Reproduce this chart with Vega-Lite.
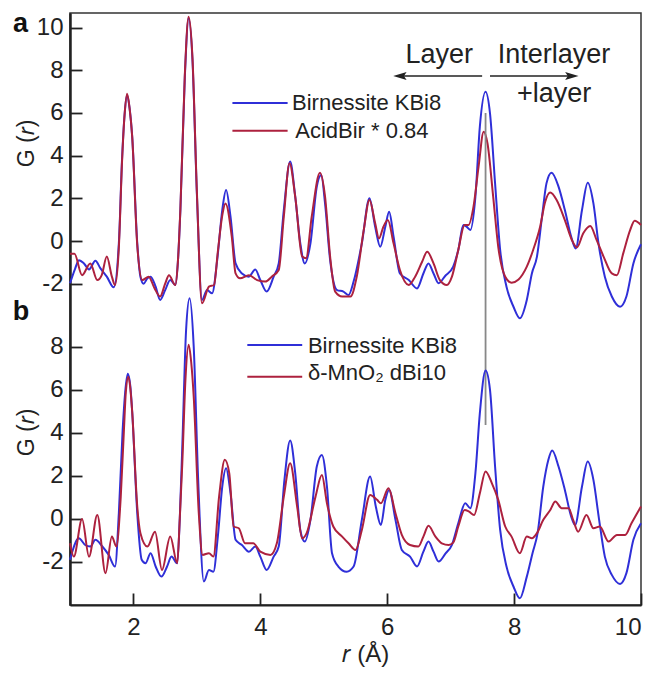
{
  "$schema": "https://vega.github.io/schema/vega-lite/v6.json",
  "width": 571,
  "height": 592,
  "autosize": "none",
  "padding": {"left": 70, "top": 13, "right": 17, "bottom": 68},
  "config": {
    "view": {"stroke": "#333", "strokeWidth": 1.5},
    "font": "Liberation Sans",
    "axis": {
      "grid": false,
      "labelFont": "Liberation Sans",
      "labelFontSize": 24,
      "labelColor": "#222",
      "labelExpr": "replace(datum.label, '\u2212', '-')",
      "tickColor": "#222",
      "tickWidth": 1.8,
      "tickSize": -12,
      "domainColor": "#222",
      "domainWidth": 2,
      "titleFont": "Liberation Sans",
      "titleFontSize": 23,
      "titleFontWeight": "normal",
      "titleColor": "#222"
    }
  },
  "datasets": {
    "pa": [
      {"r":1.00,"g":-1.98,"s":"KBi8"},{"r":1.08,"g":-1.3,"s":"KBi8"},{"r":1.14,"g":-0.9,"s":"KBi8"},{"r":1.22,"g":-1.05,"s":"KBi8"},{"r":1.30,"g":-1.33,"s":"KBi8"},{"r":1.40,"g":-0.92,"s":"KBi8"},{"r":1.48,"g":-1.28,"s":"KBi8"},{"r":1.58,"g":-1.67,"s":"KBi8"},{"r":1.69,"g":-2.17,"s":"KBi8"},{"r":1.77,"g":-0.11,"s":"KBi8"},{"r":1.82,"g":3.8,"s":"KBi8"},{"r":1.86,"g":5.9,"s":"KBi8"},{"r":1.90,"g":6.84,"s":"KBi8"},{"r":1.94,"g":6.2,"s":"KBi8"},{"r":1.98,"g":4.9,"s":"KBi8"},{"r":2.06,"g":-0.1,"s":"KBi8"},{"r":2.11,"g":-1.67,"s":"KBi8"},{"r":2.16,"g":-2.0,"s":"KBi8"},{"r":2.22,"g":-1.75,"s":"KBi8"},{"r":2.27,"g":-1.67,"s":"KBi8"},{"r":2.35,"g":-2.14,"s":"KBi8"},{"r":2.42,"g":-2.76,"s":"KBi8"},{"r":2.50,"g":-2.3,"s":"KBi8"},{"r":2.58,"g":-1.83,"s":"KBi8"},{"r":2.66,"g":-2.06,"s":"KBi8"},{"r":2.70,"g":-1.0,"s":"KBi8"},{"r":2.74,"g":1.45,"s":"KBi8"},{"r":2.81,"g":7.7,"s":"KBi8"},{"r":2.87,"g":10.43,"s":"KBi8"},{"r":2.93,"g":8.5,"s":"KBi8"},{"r":3.00,"g":2.2,"s":"KBi8"},{"r":3.08,"g":-2.76,"s":"KBi8"},{"r":3.16,"g":-2.3,"s":"KBi8"},{"r":3.24,"g":-2.45,"s":"KBi8"},{"r":3.32,"g":-0.89,"s":"KBi8"},{"r":3.40,"g":1.45,"s":"KBi8"},{"r":3.46,"g":2.39,"s":"KBi8"},{"r":3.53,"g":1.14,"s":"KBi8"},{"r":3.61,"g":-1.05,"s":"KBi8"},{"r":3.71,"g":-1.52,"s":"KBi8"},{"r":3.82,"g":-1.67,"s":"KBi8"},{"r":3.92,"g":-1.33,"s":"KBi8"},{"r":4.00,"g":-1.83,"s":"KBi8"},{"r":4.10,"g":-2.37,"s":"KBi8"},{"r":4.21,"g":-1.67,"s":"KBi8"},{"r":4.29,"g":-1.05,"s":"KBi8"},{"r":4.37,"g":1.45,"s":"KBi8"},{"r":4.47,"g":3.72,"s":"KBi8"},{"r":4.55,"g":2.08,"s":"KBi8"},{"r":4.63,"g":-0.11,"s":"KBi8"},{"r":4.70,"g":-1.05,"s":"KBi8"},{"r":4.79,"g":-0.11,"s":"KBi8"},{"r":4.89,"g":2.55,"s":"KBi8"},{"r":4.96,"g":3.09,"s":"KBi8"},{"r":5.02,"g":1.76,"s":"KBi8"},{"r":5.10,"g":-0.89,"s":"KBi8"},{"r":5.21,"g":-2.3,"s":"KBi8"},{"r":5.31,"g":-2.37,"s":"KBi8"},{"r":5.39,"g":-2.53,"s":"KBi8"},{"r":5.47,"g":-1.9,"s":"KBi8"},{"r":5.60,"g":-0.11,"s":"KBi8"},{"r":5.72,"g":2.0,"s":"KBi8"},{"r":5.81,"g":0.67,"s":"KBi8"},{"r":5.89,"g":-0.27,"s":"KBi8"},{"r":5.97,"g":0.67,"s":"KBi8"},{"r":6.03,"g":1.37,"s":"KBi8"},{"r":6.10,"g":0.2,"s":"KBi8"},{"r":6.20,"g":-1.52,"s":"KBi8"},{"r":6.34,"g":-1.83,"s":"KBi8"},{"r":6.47,"g":-2.22,"s":"KBi8"},{"r":6.57,"g":-1.52,"s":"KBi8"},{"r":6.65,"g":-1.05,"s":"KBi8"},{"r":6.73,"g":-1.52,"s":"KBi8"},{"r":6.81,"g":-1.98,"s":"KBi8"},{"r":6.91,"g":-1.65,"s":"KBi8"},{"r":7.04,"g":-1.2,"s":"KBi8"},{"r":7.12,"g":-0.42,"s":"KBi8"},{"r":7.20,"g":0.75,"s":"KBi8"},{"r":7.25,"g":0.67,"s":"KBi8"},{"r":7.31,"g":0.52,"s":"KBi8"},{"r":7.39,"g":2.08,"s":"KBi8"},{"r":7.46,"g":5.36,"s":"KBi8"},{"r":7.55,"g":6.99,"s":"KBi8"},{"r":7.62,"g":5.98,"s":"KBi8"},{"r":7.70,"g":2.7,"s":"KBi8"},{"r":7.78,"g":-0.42,"s":"KBi8"},{"r":7.88,"g":-2.14,"s":"KBi8"},{"r":7.99,"g":-3.08,"s":"KBi8"},{"r":8.09,"g":-3.62,"s":"KBi8"},{"r":8.20,"g":-2.76,"s":"KBi8"},{"r":8.28,"g":-1.52,"s":"KBi8"},{"r":8.36,"g":-0.73,"s":"KBi8"},{"r":8.44,"g":1.14,"s":"KBi8"},{"r":8.51,"g":2.7,"s":"KBi8"},{"r":8.59,"g":3.2,"s":"KBi8"},{"r":8.70,"g":2.55,"s":"KBi8"},{"r":8.80,"g":1.45,"s":"KBi8"},{"r":8.90,"g":0.2,"s":"KBi8"},{"r":8.97,"g":-0.35,"s":"KBi8"},{"r":9.07,"g":1.45,"s":"KBi8"},{"r":9.16,"g":2.73,"s":"KBi8"},{"r":9.25,"g":1.76,"s":"KBi8"},{"r":9.33,"g":-0.11,"s":"KBi8"},{"r":9.43,"g":-1.67,"s":"KBi8"},{"r":9.54,"g":-2.6,"s":"KBi8"},{"r":9.67,"g":-3.08,"s":"KBi8"},{"r":9.77,"g":-2.6,"s":"KBi8"},{"r":9.88,"g":-1.05,"s":"KBi8"},{"r":10.0,"g":-0.15,"s":"KBi8"},
      {"r":1.00,"g":-0.6,"s":"AcidBir"},{"r":1.07,"g":-0.6,"s":"AcidBir"},{"r":1.19,"g":-1.6,"s":"AcidBir"},{"r":1.32,"g":-1.05,"s":"AcidBir"},{"r":1.43,"g":-1.83,"s":"AcidBir"},{"r":1.50,"g":-1.6,"s":"AcidBir"},{"r":1.58,"g":-0.73,"s":"AcidBir"},{"r":1.66,"g":-1.67,"s":"AcidBir"},{"r":1.71,"g":-2.06,"s":"AcidBir"},{"r":1.77,"g":-0.3,"s":"AcidBir"},{"r":1.82,"g":3.7,"s":"AcidBir"},{"r":1.86,"g":5.9,"s":"AcidBir"},{"r":1.90,"g":6.9,"s":"AcidBir"},{"r":1.94,"g":6.2,"s":"AcidBir"},{"r":1.98,"g":4.9,"s":"AcidBir"},{"r":2.06,"g":-0.2,"s":"AcidBir"},{"r":2.14,"g":-1.83,"s":"AcidBir"},{"r":2.24,"g":-1.67,"s":"AcidBir"},{"r":2.33,"g":-2.2,"s":"AcidBir"},{"r":2.42,"g":-2.6,"s":"AcidBir"},{"r":2.50,"g":-2.0,"s":"AcidBir"},{"r":2.56,"g":-1.6,"s":"AcidBir"},{"r":2.66,"g":-2.06,"s":"AcidBir"},{"r":2.70,"g":-1.0,"s":"AcidBir"},{"r":2.74,"g":1.5,"s":"AcidBir"},{"r":2.81,"g":7.8,"s":"AcidBir"},{"r":2.87,"g":10.5,"s":"AcidBir"},{"r":2.93,"g":8.6,"s":"AcidBir"},{"r":3.00,"g":2.3,"s":"AcidBir"},{"r":3.08,"g":-2.92,"s":"AcidBir"},{"r":3.19,"g":-2.14,"s":"AcidBir"},{"r":3.27,"g":-2.06,"s":"AcidBir"},{"r":3.33,"g":-0.5,"s":"AcidBir"},{"r":3.40,"g":1.2,"s":"AcidBir"},{"r":3.45,"g":1.76,"s":"AcidBir"},{"r":3.55,"g":0.2,"s":"AcidBir"},{"r":3.61,"g":-1.52,"s":"AcidBir"},{"r":3.68,"g":-1.75,"s":"AcidBir"},{"r":3.82,"g":-1.6,"s":"AcidBir"},{"r":3.95,"g":-1.83,"s":"AcidBir"},{"r":4.08,"g":-1.9,"s":"AcidBir"},{"r":4.18,"g":-1.67,"s":"AcidBir"},{"r":4.29,"g":-1.36,"s":"AcidBir"},{"r":4.37,"g":1.14,"s":"AcidBir"},{"r":4.46,"g":3.64,"s":"AcidBir"},{"r":4.55,"g":2.08,"s":"AcidBir"},{"r":4.66,"g":-0.73,"s":"AcidBir"},{"r":4.72,"g":-0.81,"s":"AcidBir"},{"r":4.81,"g":1.14,"s":"AcidBir"},{"r":4.94,"g":3.2,"s":"AcidBir"},{"r":5.02,"g":2.08,"s":"AcidBir"},{"r":5.10,"g":-0.73,"s":"AcidBir"},{"r":5.18,"g":-2.37,"s":"AcidBir"},{"r":5.29,"g":-2.6,"s":"AcidBir"},{"r":5.42,"g":-2.6,"s":"AcidBir"},{"r":5.52,"g":-1.67,"s":"AcidBir"},{"r":5.63,"g":0.52,"s":"AcidBir"},{"r":5.72,"g":1.92,"s":"AcidBir"},{"r":5.81,"g":0.83,"s":"AcidBir"},{"r":5.87,"g":0.12,"s":"AcidBir"},{"r":5.94,"g":0.67,"s":"AcidBir"},{"r":6.01,"g":0.98,"s":"AcidBir"},{"r":6.10,"g":-0.11,"s":"AcidBir"},{"r":6.20,"g":-1.36,"s":"AcidBir"},{"r":6.34,"g":-2.06,"s":"AcidBir"},{"r":6.44,"g":-1.67,"s":"AcidBir"},{"r":6.55,"g":-0.97,"s":"AcidBir"},{"r":6.63,"g":-0.5,"s":"AcidBir"},{"r":6.73,"g":-1.05,"s":"AcidBir"},{"r":6.83,"g":-1.83,"s":"AcidBir"},{"r":6.94,"g":-2.06,"s":"AcidBir"},{"r":7.02,"g":-1.67,"s":"AcidBir"},{"r":7.12,"g":-0.42,"s":"AcidBir"},{"r":7.22,"g":0.75,"s":"AcidBir"},{"r":7.28,"g":0.75,"s":"AcidBir"},{"r":7.36,"g":1.61,"s":"AcidBir"},{"r":7.44,"g":3.48,"s":"AcidBir"},{"r":7.52,"g":5.12,"s":"AcidBir"},{"r":7.58,"g":4.58,"s":"AcidBir"},{"r":7.67,"g":2.08,"s":"AcidBir"},{"r":7.75,"g":-0.27,"s":"AcidBir"},{"r":7.86,"g":-1.67,"s":"AcidBir"},{"r":7.96,"g":-1.95,"s":"AcidBir"},{"r":8.07,"g":-1.8,"s":"AcidBir"},{"r":8.20,"g":-1.2,"s":"AcidBir"},{"r":8.30,"g":-0.42,"s":"AcidBir"},{"r":8.41,"g":0.67,"s":"AcidBir"},{"r":8.49,"g":1.84,"s":"AcidBir"},{"r":8.57,"g":2.27,"s":"AcidBir"},{"r":8.67,"g":1.92,"s":"AcidBir"},{"r":8.80,"g":0.98,"s":"AcidBir"},{"r":8.91,"g":0.05,"s":"AcidBir"},{"r":8.99,"g":-0.3,"s":"AcidBir"},{"r":9.09,"g":0.36,"s":"AcidBir"},{"r":9.20,"g":0.7,"s":"AcidBir"},{"r":9.30,"g":0.05,"s":"AcidBir"},{"r":9.41,"g":-0.73,"s":"AcidBir"},{"r":9.54,"g":-1.52,"s":"AcidBir"},{"r":9.62,"g":-1.6,"s":"AcidBir"},{"r":9.72,"g":-0.58,"s":"AcidBir"},{"r":9.83,"g":0.52,"s":"AcidBir"},{"r":9.90,"g":0.95,"s":"AcidBir"},{"r":10.0,"g":0.75,"s":"AcidBir"}
    ],
    "pb": [
      {"r":1.00,"g":-1.9,"s":"KBi8"},{"r":1.14,"g":-0.9,"s":"KBi8"},{"r":1.24,"g":-1.21,"s":"KBi8"},{"r":1.32,"g":-1.28,"s":"KBi8"},{"r":1.40,"g":-0.97,"s":"KBi8"},{"r":1.51,"g":-1.28,"s":"KBi8"},{"r":1.61,"g":-1.67,"s":"KBi8"},{"r":1.71,"g":-2.21,"s":"KBi8"},{"r":1.77,"g":0.27,"s":"KBi8"},{"r":1.83,"g":4.14,"s":"KBi8"},{"r":1.87,"g":5.9,"s":"KBi8"},{"r":1.91,"g":6.75,"s":"KBi8"},{"r":1.95,"g":6.2,"s":"KBi8"},{"r":1.98,"g":5.0,"s":"KBi8"},{"r":2.06,"g":0.27,"s":"KBi8"},{"r":2.13,"g":-1.9,"s":"KBi8"},{"r":2.19,"g":-2.06,"s":"KBi8"},{"r":2.27,"g":-1.59,"s":"KBi8"},{"r":2.35,"g":-2.21,"s":"KBi8"},{"r":2.44,"g":-2.68,"s":"KBi8"},{"r":2.53,"g":-2.21,"s":"KBi8"},{"r":2.60,"g":-1.75,"s":"KBi8"},{"r":2.69,"g":-2.06,"s":"KBi8"},{"r":2.73,"g":0.0,"s":"KBi8"},{"r":2.77,"g":3.37,"s":"KBi8"},{"r":2.83,"g":8.8,"s":"KBi8"},{"r":2.885,"g":10.27,"s":"KBi8"},{"r":2.95,"g":8.02,"s":"KBi8"},{"r":3.02,"g":1.82,"s":"KBi8"},{"r":3.11,"g":-2.91,"s":"KBi8"},{"r":3.19,"g":-2.37,"s":"KBi8"},{"r":3.26,"g":-2.45,"s":"KBi8"},{"r":3.33,"g":-0.82,"s":"KBi8"},{"r":3.40,"g":1.51,"s":"KBi8"},{"r":3.46,"g":2.36,"s":"KBi8"},{"r":3.53,"g":1.2,"s":"KBi8"},{"r":3.61,"g":-0.97,"s":"KBi8"},{"r":3.71,"g":-1.21,"s":"KBi8"},{"r":3.82,"g":-1.52,"s":"KBi8"},{"r":3.92,"g":-1.28,"s":"KBi8"},{"r":4.00,"g":-1.75,"s":"KBi8"},{"r":4.10,"g":-2.37,"s":"KBi8"},{"r":4.21,"g":-1.75,"s":"KBi8"},{"r":4.29,"g":-1.28,"s":"KBi8"},{"r":4.38,"g":1.82,"s":"KBi8"},{"r":4.47,"g":3.65,"s":"KBi8"},{"r":4.55,"g":2.13,"s":"KBi8"},{"r":4.63,"g":-0.51,"s":"KBi8"},{"r":4.70,"g":-1.05,"s":"KBi8"},{"r":4.79,"g":-0.04,"s":"KBi8"},{"r":4.89,"g":2.44,"s":"KBi8"},{"r":4.97,"g":2.98,"s":"KBi8"},{"r":5.05,"g":1.51,"s":"KBi8"},{"r":5.13,"g":-1.59,"s":"KBi8"},{"r":5.23,"g":-2.21,"s":"KBi8"},{"r":5.36,"g":-2.45,"s":"KBi8"},{"r":5.47,"g":-2.21,"s":"KBi8"},{"r":5.60,"g":-0.04,"s":"KBi8"},{"r":5.73,"g":1.97,"s":"KBi8"},{"r":5.82,"g":0.58,"s":"KBi8"},{"r":5.90,"g":-0.28,"s":"KBi8"},{"r":5.97,"g":0.89,"s":"KBi8"},{"r":6.03,"g":1.35,"s":"KBi8"},{"r":6.13,"g":-0.04,"s":"KBi8"},{"r":6.23,"g":-1.44,"s":"KBi8"},{"r":6.36,"g":-1.75,"s":"KBi8"},{"r":6.47,"g":-2.21,"s":"KBi8"},{"r":6.57,"g":-1.52,"s":"KBi8"},{"r":6.65,"g":-1.05,"s":"KBi8"},{"r":6.73,"g":-1.52,"s":"KBi8"},{"r":6.81,"g":-1.98,"s":"KBi8"},{"r":6.92,"g":-1.6,"s":"KBi8"},{"r":7.02,"g":-1.2,"s":"KBi8"},{"r":7.12,"g":-0.2,"s":"KBi8"},{"r":7.23,"g":0.73,"s":"KBi8"},{"r":7.31,"g":0.5,"s":"KBi8"},{"r":7.39,"g":2.13,"s":"KBi8"},{"r":7.46,"g":4.92,"s":"KBi8"},{"r":7.55,"g":6.9,"s":"KBi8"},{"r":7.62,"g":6.0,"s":"KBi8"},{"r":7.70,"g":2.44,"s":"KBi8"},{"r":7.78,"g":-0.51,"s":"KBi8"},{"r":7.88,"g":-2.21,"s":"KBi8"},{"r":7.99,"g":-3.14,"s":"KBi8"},{"r":8.09,"g":-3.69,"s":"KBi8"},{"r":8.20,"g":-2.68,"s":"KBi8"},{"r":8.29,"g":-1.59,"s":"KBi8"},{"r":8.37,"g":-0.66,"s":"KBi8"},{"r":8.46,"g":1.51,"s":"KBi8"},{"r":8.54,"g":2.75,"s":"KBi8"},{"r":8.60,"g":3.18,"s":"KBi8"},{"r":8.70,"g":2.44,"s":"KBi8"},{"r":8.80,"g":1.35,"s":"KBi8"},{"r":8.90,"g":0.11,"s":"KBi8"},{"r":8.96,"g":-0.28,"s":"KBi8"},{"r":9.07,"g":1.51,"s":"KBi8"},{"r":9.16,"g":2.67,"s":"KBi8"},{"r":9.25,"g":1.82,"s":"KBi8"},{"r":9.34,"g":-0.04,"s":"KBi8"},{"r":9.43,"g":-1.75,"s":"KBi8"},{"r":9.54,"g":-2.6,"s":"KBi8"},{"r":9.67,"g":-3.02,"s":"KBi8"},{"r":9.77,"g":-2.52,"s":"KBi8"},{"r":9.88,"g":-0.97,"s":"KBi8"},{"r":10.0,"g":-0.2,"s":"KBi8"},
      {"r":1.00,"g":-1.13,"s":"dBi10"},{"r":1.06,"g":-1.75,"s":"dBi10"},{"r":1.19,"g":0.0,"s":"dBi10"},{"r":1.30,"g":-1.75,"s":"dBi10"},{"r":1.43,"g":0.19,"s":"dBi10"},{"r":1.56,"g":-2.52,"s":"dBi10"},{"r":1.66,"g":-0.82,"s":"dBi10"},{"r":1.73,"g":-1.28,"s":"dBi10"},{"r":1.80,"g":1.04,"s":"dBi10"},{"r":1.85,"g":4.14,"s":"dBi10"},{"r":1.88,"g":5.9,"s":"dBi10"},{"r":1.92,"g":6.62,"s":"dBi10"},{"r":1.95,"g":6.1,"s":"dBi10"},{"r":1.98,"g":5.0,"s":"dBi10"},{"r":2.06,"g":0.58,"s":"dBi10"},{"r":2.11,"g":-0.66,"s":"dBi10"},{"r":2.22,"g":-1.28,"s":"dBi10"},{"r":2.34,"g":-0.59,"s":"dBi10"},{"r":2.45,"g":-2.37,"s":"dBi10"},{"r":2.58,"g":-0.82,"s":"dBi10"},{"r":2.69,"g":-2.06,"s":"dBi10"},{"r":2.73,"g":0.0,"s":"dBi10"},{"r":2.77,"g":2.59,"s":"dBi10"},{"r":2.82,"g":6.5,"s":"dBi10"},{"r":2.87,"g":8.1,"s":"dBi10"},{"r":2.91,"g":7.3,"s":"dBi10"},{"r":2.95,"g":5.69,"s":"dBi10"},{"r":3.03,"g":0.27,"s":"dBi10"},{"r":3.09,"g":-1.67,"s":"dBi10"},{"r":3.19,"g":-1.59,"s":"dBi10"},{"r":3.26,"g":-1.75,"s":"dBi10"},{"r":3.35,"g":1.04,"s":"dBi10"},{"r":3.44,"g":2.75,"s":"dBi10"},{"r":3.51,"g":2.13,"s":"dBi10"},{"r":3.58,"g":-0.35,"s":"dBi10"},{"r":3.66,"g":-0.43,"s":"dBi10"},{"r":3.76,"g":-1.13,"s":"dBi10"},{"r":3.89,"g":-1.13,"s":"dBi10"},{"r":4.00,"g":-1.52,"s":"dBi10"},{"r":4.16,"g":-1.67,"s":"dBi10"},{"r":4.26,"g":-1.13,"s":"dBi10"},{"r":4.37,"g":1.04,"s":"dBi10"},{"r":4.47,"g":2.59,"s":"dBi10"},{"r":4.58,"g":0.58,"s":"dBi10"},{"r":4.66,"g":-0.9,"s":"dBi10"},{"r":4.73,"g":-0.66,"s":"dBi10"},{"r":4.87,"g":1.04,"s":"dBi10"},{"r":4.97,"g":2.05,"s":"dBi10"},{"r":5.05,"g":0.73,"s":"dBi10"},{"r":5.15,"g":-0.35,"s":"dBi10"},{"r":5.29,"g":-0.82,"s":"dBi10"},{"r":5.39,"g":-1.13,"s":"dBi10"},{"r":5.50,"g":-1.44,"s":"dBi10"},{"r":5.60,"g":-0.51,"s":"dBi10"},{"r":5.73,"g":1.12,"s":"dBi10"},{"r":5.84,"g":0.89,"s":"dBi10"},{"r":5.90,"g":0.73,"s":"dBi10"},{"r":6.02,"g":1.43,"s":"dBi10"},{"r":6.13,"g":0.27,"s":"dBi10"},{"r":6.23,"g":-0.74,"s":"dBi10"},{"r":6.36,"g":-1.21,"s":"dBi10"},{"r":6.49,"g":-1.28,"s":"dBi10"},{"r":6.57,"g":-0.82,"s":"dBi10"},{"r":6.65,"g":-0.32,"s":"dBi10"},{"r":6.76,"g":-0.82,"s":"dBi10"},{"r":6.86,"g":-1.13,"s":"dBi10"},{"r":6.97,"g":-1.21,"s":"dBi10"},{"r":7.04,"g":-1.1,"s":"dBi10"},{"r":7.12,"g":-0.35,"s":"dBi10"},{"r":7.22,"g":0.42,"s":"dBi10"},{"r":7.29,"g":0.34,"s":"dBi10"},{"r":7.37,"g":0.19,"s":"dBi10"},{"r":7.46,"g":1.2,"s":"dBi10"},{"r":7.55,"g":2.21,"s":"dBi10"},{"r":7.65,"g":1.66,"s":"dBi10"},{"r":7.75,"g":0.89,"s":"dBi10"},{"r":7.86,"g":-0.35,"s":"dBi10"},{"r":7.96,"g":-0.82,"s":"dBi10"},{"r":8.09,"g":-1.59,"s":"dBi10"},{"r":8.20,"g":-0.82,"s":"dBi10"},{"r":8.28,"g":-0.9,"s":"dBi10"},{"r":8.36,"g":-0.66,"s":"dBi10"},{"r":8.46,"g":-0.04,"s":"dBi10"},{"r":8.57,"g":0.42,"s":"dBi10"},{"r":8.65,"g":0.81,"s":"dBi10"},{"r":8.75,"g":0.5,"s":"dBi10"},{"r":8.86,"g":0.5,"s":"dBi10"},{"r":8.93,"g":-0.04,"s":"dBi10"},{"r":9.01,"g":-0.59,"s":"dBi10"},{"r":9.14,"g":0.19,"s":"dBi10"},{"r":9.25,"g":-0.43,"s":"dBi10"},{"r":9.35,"g":-0.35,"s":"dBi10"},{"r":9.49,"g":-1.05,"s":"dBi10"},{"r":9.62,"g":-0.74,"s":"dBi10"},{"r":9.75,"g":-0.74,"s":"dBi10"},{"r":9.85,"g":-0.2,"s":"dBi10"},{"r":10.0,"g":0.58,"s":"dBi10"}
    ]
  },
  "encoding": {
    "x": {
      "field": "r", "type": "quantitative",
      "scale": {"domain": [1, 10], "nice": false, "zero": false},
      "axis": {"values": [2, 4, 6, 8, 10], "labelPadding": 22, "title": "𝑟 (Å)", "titleX": 295, "titleY": 56, "titleBaseline": "alphabetic", "titleFontSize": 24}
    }
  },
  "layer": [
    {
      "encoding": {
        "y": {
          "field": "g", "type": "quantitative",
          "scale": {"domain": [-17.05, 10.68], "nice": false, "zero": false},
          "axis": {"orient": "left", "values": [-2, 0, 2, 4, 6, 8, 10], "labelPadding": 19, "title": "G (𝑟)", "titleX": -44, "titleY": 130, "titleAngle": -90, "titleBaseline": "middle", "titleAlign": "center"}
        }
      },
      "layer": [
        {
          "data": {"name": "pa"},
          "mark": {"type": "line", "interpolate": "monotone", "strokeWidth": 2},
          "encoding": {"color": {"field": "s", "type": "nominal", "scale": {"domain": ["KBi8", "AcidBir", "dBi10"], "range": ["#2f2fd8", "#ad213e", "#ad213e"]}, "legend": null}}
        },
        {
          "data": {"values": [{"r": 7.55, "g": 6.0, "g2": -8.62}]},
          "mark": {"type": "rule", "color": "#888", "strokeWidth": 1.8},
          "encoding": {"y2": {"field": "g2"}}
        },
        {
          "data": {"values": [{"r": 3.56, "r2": 4.43, "g": 6.46, "s": "KBi8"}, {"r": 3.56, "r2": 4.43, "g": 5.17, "s": "AcidBir"}]},
          "mark": {"type": "rule", "strokeWidth": 2},
          "encoding": {"x2": {"field": "r2"}, "color": {"field": "s", "type": "nominal", "legend": null}}
        },
        {
          "data": {"values": [{"r": 4.50, "g": 6.14, "t": "Birnessite KBi8"}, {"r": 4.55, "g": 4.81, "t": "AcidBir * 0.84"}]},
          "mark": {"type": "text", "align": "left", "baseline": "alphabetic", "fontSize": 22, "color": "#222", "font": "Liberation Sans"},
          "encoding": {"text": {"field": "t"}}
        },
        {
          "data": {"values": [{"r": 6.82, "g": 8.34, "t": "Layer"}, {"r": 8.63, "g": 8.34, "t": "Interlayer"}, {"r": 8.63, "g": 6.52, "t": "+layer"}]},
          "mark": {"type": "text", "align": "center", "baseline": "alphabetic", "fontSize": 27, "color": "#222", "font": "Liberation Sans"},
          "encoding": {"text": {"field": "t"}}
        },
        {
          "data": {"values": [{"r": 6.18, "r2": 7.496, "g": 7.73}, {"r": 7.62, "r2": 8.93, "g": 7.73}]},
          "mark": {"type": "rule", "color": "#222", "strokeWidth": 1.6},
          "encoding": {"x2": {"field": "r2"}}
        },
        {
          "data": {"values": [{"r": 6.2, "g": 7.73}]},
          "mark": {"type": "point", "shape": "M1,-0.6 L-1,0 L1,0.6 L0.6,0 Z", "filled": true, "color": "#222", "opacity": 1, "size": 180}
        },
        {
          "data": {"values": [{"r": 8.91, "g": 7.73}]},
          "mark": {"type": "point", "shape": "M-1,-0.6 L1,0 L-1,0.6 L-0.6,0 Z", "filled": true, "color": "#222", "opacity": 1, "size": 180}
        },
        {
          "data": {"values": [{"r": 0.22, "g": 9.79, "t": "a"}]},
          "mark": {"type": "text", "align": "center", "baseline": "alphabetic", "fontSize": 27, "fontWeight": "bold", "color": "#111", "font": "Liberation Sans"},
          "encoding": {"text": {"field": "t"}}
        }
      ]
    },
    {
      "encoding": {
        "y": {
          "field": "g", "type": "quantitative",
          "scale": {"domain": [-4.0, 23.53], "nice": false, "zero": false},
          "axis": {"orient": "left", "values": [-2, 0, 2, 4, 6, 8], "labelPadding": 19, "title": "G (𝑟)", "titleX": -44, "titleY": 419, "titleAngle": -90, "titleBaseline": "middle", "titleAlign": "center"}
        }
      },
      "layer": [
        {
          "data": {"name": "pb"},
          "mark": {"type": "line", "interpolate": "monotone", "strokeWidth": 2},
          "encoding": {"color": {"field": "s", "type": "nominal", "legend": null}}
        },
        {
          "data": {"values": [{"r": 3.795, "r2": 4.66, "g": 8.09, "s": "KBi8"}, {"r": 3.795, "r2": 4.66, "g": 6.62, "s": "dBi10"}]},
          "mark": {"type": "rule", "strokeWidth": 2},
          "encoding": {"x2": {"field": "r2"}, "color": {"field": "s", "type": "nominal", "legend": null}}
        },
        {
          "data": {"values": [{"r": 4.75, "g": 7.74, "t": "Birnessite KBi8"}, {"r": 4.75, "g": 6.47, "t": "δ-MnO₂ dBi10"}]},
          "mark": {"type": "text", "align": "left", "baseline": "alphabetic", "fontSize": 22, "color": "#222", "font": "Liberation Sans"},
          "encoding": {"text": {"field": "t"}}
        },
        {
          "data": {"values": [{"r": 0.228, "g": 9.26, "t": "b"}]},
          "mark": {"type": "text", "align": "center", "baseline": "alphabetic", "fontSize": 27, "fontWeight": "bold", "color": "#111", "font": "Liberation Sans"},
          "encoding": {"text": {"field": "t"}}
        }
      ]
    }
  ],
  "resolve": {"scale": {"y": "independent"}, "axis": {"y": "independent"}}
}
